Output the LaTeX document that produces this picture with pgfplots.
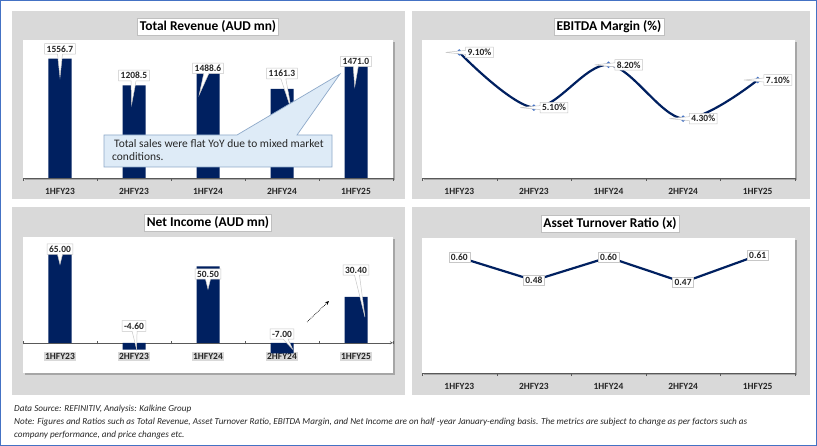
\documentclass[border=0pt]{standalone}
\usepackage{fontspec}
\setmainfont{Carlito}
\usepackage{pgfplots}
\usepackage{pgfplotstable}
\pgfplotsset{compat=1.18}
\usetikzlibrary{shapes.callouts,arrows.meta}

\definecolor{navy}{HTML}{002060}
\definecolor{panel}{HTML}{D9D9D9}
\definecolor{frame}{HTML}{4472C4}
\definecolor{markblue}{HTML}{4472C4}
\definecolor{callfill}{HTML}{DEEBF7}
\definecolor{calledge}{HTML}{8EA9C9}

% label y (ly) and callout pointer (px,py)
\pgfplotstableread{
x v ly px py
0 1556.7 1684 0 -23
1 1208.5 1337 -2 -24
2 1488.6 1429 -7 -21
3 1161.3 1363 8 -31
4 1471.0 1520 -1 -20
}\revenue

\pgfplotstableread{
x v
0 9.10
1 5.10
2 8.20
3 4.30
4 7.10
}\ebitda

\pgfplotstableread{
x v ly px py
0 65.00 62.0 0 -10
1 -4.60 11.1 2 -18
2 50.50 45.5 0 -10
3 -7.00 5.8 7 -10
4 30.40 48.2 8 -42
}\netincome

\pgfplotstableread{
x v
0 0.60
1 0.48
2 0.60
3 0.47
4 0.61
}\turnover

\tikzset{
  lab/.style={fill=white, draw=black!22, line width=0.5bp, inner sep=2bp,
    font=\fontsize{9.5}{10}\selectfont\bfseries, text=black!85},
}
\pgfplotsset{
  dash/.style={
    scale only axis, anchor=south west,
    xmin=-0.5, xmax=4.5,
    axis y line=none,
    axis x line*=bottom,
    x axis line style={draw=black!65,-},
    xtick={0,...,4},
    xticklabels={1HFY23,2HFY23,1HFY24,2HFY24,1HFY25},
    major x tick style={draw=none},
    minor xtick={-0.5,0.5,...,4.5},
    minor tick length=3bp,
    minor x tick style={draw=black!65},
    tick align=outside,
    xticklabel style={font=\fontsize{9.5}{10}\selectfont\bfseries, text=black!85, yshift=-3bp},
    clip=false,
    /pgf/number format/assume math mode=true,
    /pgf/number format/1000 sep={},
  },
  callouts/.style={draw=none, mark=none, point meta=explicit,
    visualization depends on={\thisrow{px} \as \px},
    visualization depends on={\thisrow{py} \as \py},
    nodes near coords style={lab, anchor=center, rectangle callout,
      callout pointer width=5bp, callout relative pointer={(\px bp,\py bp)}}},
}

\begin{document}
\begin{tikzpicture}
\useasboundingbox (0,0) rectangle (817bp,446bp);
\begin{scope}[x=1bp,y=1bp]
  \fill[white] (0,0) rectangle (817,446);
  \draw[frame, line width=1.2bp] (0.6,0.6) rectangle (816.4,445.4);
  % panels
  \fill[panel] (12,247) rectangle (405,435);
  \fill[panel] (412,247) rectangle (810,435);
  \fill[panel] (12,51) rectangle (405,239);
  \fill[panel] (412,51) rectangle (810,239);
  % plot areas with shadow
  \fill[black!35] (25,266) rectangle (395,404);
  \fill[white] (23,268) rectangle (393,406);
  \fill[black!35] (424,266) rectangle (797,404);
  \fill[white] (422,268) rectangle (795,406);
  \fill[black!35] (25,71) rectangle (395,207);
  \fill[white] (23,73) rectangle (393,209);
  \fill[black!35] (424,71) rectangle (797,206);
  \fill[white] (422,73) rectangle (795,208);
  % titles
  \begin{scope}[every node/.style={fill=white, draw=black!25, inner sep=2.5bp,
      font=\fontsize{13.5}{15}\selectfont\bfseries}]
    \node at (208,419) {Total Revenue (AUD mn)};
    \node at (609,419) {EBITDA Margin (\%)};
    \node at (208,223.5) {Net Income (AUD mn)};
    \node at (610,222.5) {Asset Turnover Ratio (x)};
  \end{scope}
\end{scope}

% Total Revenue
\begin{axis}[dash, at={(23bp,268bp)}, width=370bp, height=138bp,
  ymin=0, ymax=1800]
  \addplot[ybar, bar width=23bp, fill=navy, draw=none] table[x=x, y=v]{\revenue};
  \addplot[callouts,
    nodes near coords={\pgfmathprintnumber[fixed,fixed zerofill,precision=1]{\pgfplotspointmeta}}]
    table[x=x, y=ly, meta=v]{\revenue};
\end{axis}

% EBITDA Margin
\begin{axis}[dash, at={(422bp,268bp)}, width=373bp, height=138bp,
  ymin=0, ymax=10]
  \addplot[navy, line width=2.2bp, smooth, tension=0.55, mark=*, mark size=1.8bp,
    mark options={fill=markblue, draw=markblue},
    point meta=y,
    nodes near coords={\pgfmathprintnumber[fixed,fixed zerofill,precision=2]{\pgfplotspointmeta}\%},
    nodes near coords style={lab, anchor=west, xshift=6bp, rectangle callout,
      callout pointer width=4bp, callout relative pointer={(-20bp,0bp)}}]
    table[x=x, y=v]{\ebitda};
\end{axis}

% Net Income
\begin{axis}[dash, at={(23bp,73bp)}, width=370bp, height=136bp,
  ymin=-20, ymax=70, axis x line=middle,
  xticklabel style={fill=panel, inner sep=1.5bp, yshift=-4bp}]
  \addplot[ybar, bar width=23bp, fill=navy, draw=none] table[x=x, y=v]{\netincome};
  \addplot[callouts,
    nodes near coords={\pgfmathprintnumber[fixed,fixed zerofill,precision=2]{\pgfplotspointmeta}}]
    table[x=x, y=ly, meta=v]{\netincome};
\end{axis}

% Asset Turnover Ratio
\begin{axis}[dash, at={(422bp,73bp)}, width=373bp, height=135bp,
  ymin=0, ymax=0.7]
  \addplot[navy, line width=2.2bp, mark=none, point meta=y,
    nodes near coords={\pgfmathprintnumber[fixed,fixed zerofill,precision=2]{\pgfplotspointmeta}},
    nodes near coords style={lab, anchor=center}]
    table[x=x, y=v]{\turnover};
\end{axis}

\begin{scope}[x=1bp,y=1bp]
  % callout on revenue panel
  \draw[calledge, fill=callfill, line width=0.7bp]
    (104,279) -- (104,311) -- (237,311) -- (340,372) -- (297,311)
    -- (332,311) -- (332,279) -- cycle;
  \node[anchor=north west, align=left, inner sep=0pt,
    font=\fontsize{11.5}{13}\selectfont, text=black!85] at (112,307)
    {\hspace*{2bp}Total sales were flat YoY due to mixed market\\conditions.};
  % trend arrow on net income panel
  \draw[densely dotted, line width=0.7bp, -{Stealth[length=4bp,width=3.5bp]}]
    (307,124) -- (329,145);
  % footer notes
  \begin{scope}[every node/.style={anchor=base west, inner sep=0pt,
      font=\fontsize{9.2}{10}\selectfont\itshape, text=black!85}]
    \node at (14,35) {Data Source: REFINITIV, Analysis: Kalkine Group};
    \node at (14,22) {Note: Figures and Ratios such as Total Revenue, Asset Turnover Ratio, EBITDA Margin, and Net Income are on half -year January-ending basis. The metrics are subject to change as per factors such as};
    \node at (14,9) {company performance, and price changes etc.};
  \end{scope}
\end{scope}
\end{tikzpicture}
\end{document}
